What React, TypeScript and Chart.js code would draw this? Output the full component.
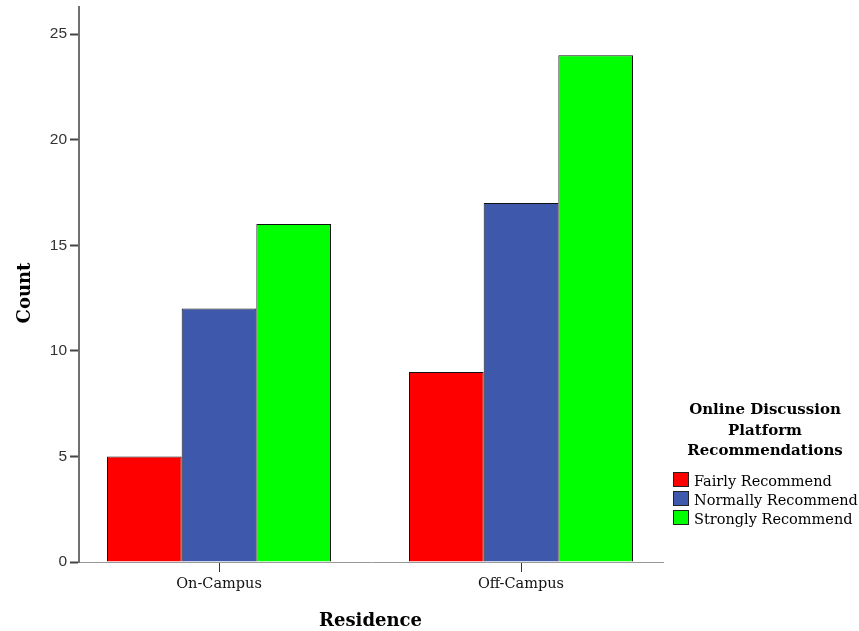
import React, { useEffect, useRef } from "react";
import { Chart, registerables } from "chart.js";

Chart.register(...registerables);

const categories = ["On-Campus", "Off-Campus"];
const seriesNames = ["Fairly Recommend", "Normally Recommend", "Strongly Recommend"];
const fairlyValues = [5, 9];
const normallyValues = [12, 17];
const stronglyValues = [16, 24];
const seriesColors = ["#ff0000", "#3e58ac", "#00ff00"];
const yTickValues = [0, 5, 10, 15, 20, 25];
const yTitle = "Count";
const xTitle = "Residence";
const legendTitle = ["Online Discussion", "Platform", "Recommendations"];

const seriesValues = [fairlyValues, normallyValues, stronglyValues];

const overlayPlugin = {
  id: "overlay",
  afterDraw(chart: any) {
    const ctx = chart.ctx as CanvasRenderingContext2D;
    ctx.save();
    ctx.fillStyle = "#000";
    ctx.textBaseline = "alphabetic";
    ctx.textAlign = "center";
    ctx.font = 'bold 18px "DejaVu Serif"';
    ctx.fillText(xTitle, 370.5, 626);
    ctx.save();
    ctx.translate(30, 293);
    ctx.rotate(-Math.PI / 2);
    ctx.fillText(yTitle, 0, 0);
    ctx.restore();

    ctx.font = 'bold 15px "DejaVu Serif"';
    legendTitle.forEach((line, i) => {
      ctx.fillText(line, 765, 414 + i * 20.5);
    });

    ctx.textAlign = "left";
    ctx.font = '14.5px "DejaVu Serif"';
    chart.data.datasets.forEach((ds: any, i: number) => {
      const top = 472 + i * 19;
      ctx.fillStyle = ds.backgroundColor;
      ctx.fillRect(673, top, 16, 15);
      ctx.strokeStyle = "#222";
      ctx.lineWidth = 1;
      ctx.strokeRect(673.5, top + 0.5, 15, 14);
      ctx.fillStyle = "#000";
      ctx.fillText(ds.label, 694, top + 13.5);
    });
    ctx.restore();
  },
};

export default function App() {
  const canvasRef = useRef<HTMLCanvasElement | null>(null);

  useEffect(() => {
    if (!canvasRef.current) return;
    const chart = new Chart(canvasRef.current, {
      type: "bar",
      data: {
        datasets: seriesNames.map((name, i) => ({
          label: name,
          data: categories.map((_, c) => ({ x: c, y: seriesValues[i][c] })),
          backgroundColor: seriesColors[i],
          borderColor: "#111",
          borderWidth: 1,
          categoryPercentage: 0.7417,
          barPercentage: 1,
        })),
      },
      options: {
        responsive: false,
        animation: false,
        events: [],
        layout: { padding: { top: 7, right: 196, left: 0, bottom: 0 } },
        plugins: {
          legend: { display: false },
          tooltip: { enabled: false },
          title: { display: false },
        },
        scales: {
          x: {
            type: "linear",
            offset: false,
            min: -0.4636,
            max: 1.4702,
            afterBuildTicks: (scale: any) => {
              scale.ticks = categories.map((_, i) => ({ value: i }));
            },
            afterFit: (scale: any) => {
              scale.height = 69;
              scale.paddingLeft = 0;
              scale.paddingRight = 0;
            },
            grid: {
              display: true,
              offset: false,
              drawOnChartArea: false,
              drawTicks: true,
              tickLength: 10,
              tickColor: "#333",
              tickWidth: 1,
            },
            border: { display: true, color: "#999", width: 1 },
            ticks: {
              callback: (v: any) => categories[Math.round(Number(v))] ?? "",
              font: { family: "DejaVu Serif", size: 14.5 },
              color: "#111",
              padding: 4,
              maxRotation: 0,
              autoSkip: false,
            },
          },
          y: {
            type: "linear",
            min: 0,
            max: 26.28,
            afterBuildTicks: (scale: any) => {
              scale.ticks = yTickValues.map((v) => ({ value: v }));
            },
            afterFit: (scale: any) => {
              scale.width = 79;
              scale.paddingTop = 0;
              scale.paddingBottom = 0;
            },
            grid: {
              display: true,
              drawOnChartArea: false,
              drawTicks: true,
              tickLength: 9,
              tickColor: "#444",
              tickWidth: 2,
            },
            border: { display: true, color: "#707070", width: 2 },
            ticks: {
              font: { family: "Liberation Sans", size: 15.5 },
              color: "#333",
              padding: 3,
            },
          },
        },
      },
      plugins: [overlayPlugin],
    });
    return () => chart.destroy();
  }, []);

  return (
    <div style={{ position: "absolute", left: 0, top: 0, width: 859, height: 631, background: "#fff" }}>
      <canvas ref={canvasRef} width={859} height={631} />
    </div>
  );
}
